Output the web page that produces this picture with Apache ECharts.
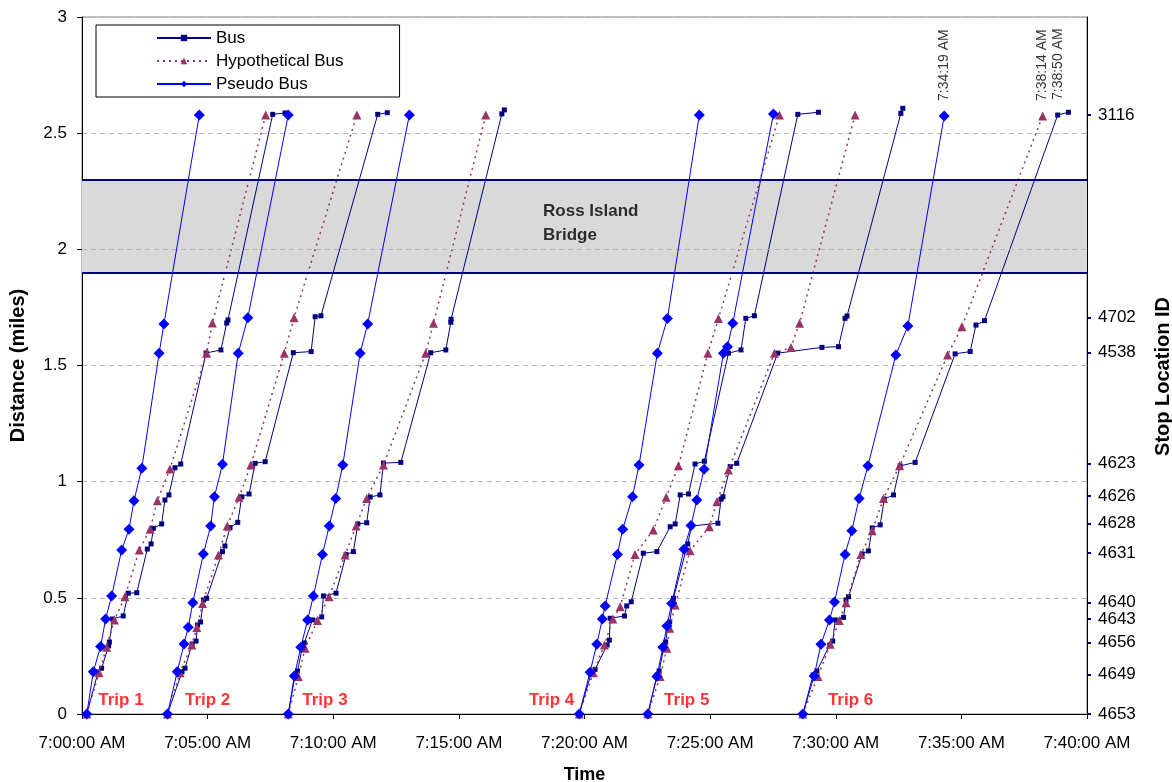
<!DOCTYPE html>
<html>
<head>
<meta charset="utf-8">
<title>Bus trips - distance vs time</title>
<script src="https://cdn.jsdelivr.net/npm/echarts@6/dist/echarts.min.js"></script>
<style>
  html, body { margin: 0; padding: 0; background: #fff; }
  #chart { width: 1172px; height: 782px; }
</style>
</head>
<body>
<div id="chart"></div>
<script>
// ── Data (x = minutes after 7:00:00 AM, y = distance in miles) ──────────

const xTicks = [0, 5, 10, 15, 20, 25, 30, 35, 40]

// right axis: stop IDs and where they sit on the distance scale
const stopIds  = ['4653', '4649', '4656', '4643', '4640', '4631', '4628', '4626', '4623', '4538', '4702', '3116']
const stopDist = [0, 0.171, 0.307, 0.408, 0.479, 0.692, 0.819, 0.938, 1.079, 1.555, 1.706, 2.578]

const bridgeRange = [1.9, 2.3]

const tripNames    = ['Trip 1', 'Trip 2', 'Trip 3', 'Trip 4', 'Trip 5', 'Trip 6']
const tripLabelPos = [[1.55, 0.058], [5.0, 0.058], [9.67, 0.058], [18.69, 0.058], [24.07, 0.058], [30.59, 0.058]]

// rotated time stamps above the last three arrivals
const timeNotes = [[34.3167, 2.574], [38.2333, 2.574], [38.8333, 2.578]]

const bus1 = [[0.19,0],[0.64,0.181],[0.78,0.197],[1.06,0.293],[1.09,0.31],[1.22,0.409],[1.64,0.422],[1.84,0.52],[2.18,0.522],[2.6,0.71],[2.75,0.732],[2.84,0.799],[3.17,0.818],[3.3,0.921],[3.46,0.943],[3.7,1.06],[3.93,1.076],[4.94,1.554],[5.53,1.567],[5.76,1.683],[5.81,1.696],[7.59,2.581],[8.08,2.587]]
const bus2 = [[3.4,0],[3.98,0.181],[4.1,0.197],[4.38,0.301],[4.54,0.314],[4.6,0.383],[4.72,0.396],[4.84,0.491],[4.96,0.498],[5.59,0.699],[5.69,0.723],[5.89,0.802],[6.2,0.825],[6.36,0.935],[6.65,0.947],[6.89,1.079],[7.29,1.086],[8.41,1.555],[9.12,1.56],[9.28,1.71],[9.51,1.714],[11.77,2.581],[12.15,2.588]]
const bus3 = [[8.21,0],[8.48,0.168],[8.58,0.185],[8.76,0.284],[8.85,0.306],[9.17,0.405],[9.54,0.418],[9.61,0.508],[10.11,0.52],[10.51,0.686],[10.8,0.699],[10.98,0.818],[11.33,0.823],[11.47,0.934],[11.86,0.943],[12.0,1.08],[12.69,1.083],[13.88,1.555],[14.48,1.567],[14.68,1.686],[14.69,1.699],[16.71,2.583],[16.81,2.6]]
const bus4 = [[19.79,0],[20.26,0.172],[20.42,0.192],[20.9,0.297],[20.99,0.318],[21.02,0.412],[21.59,0.422],[21.68,0.465],[21.86,0.483],[22.34,0.692],[22.88,0.699],[23.41,0.806],[23.61,0.818],[23.81,0.943],[24.14,0.947],[24.4,1.076],[24.77,1.088],[25.73,1.553],[26.23,1.567],[26.42,1.703],[26.76,1.714],[28.49,2.581],[29.31,2.59]]
const bus5 = [[22.52,0],[22.89,0.168],[22.97,0.185],[23.17,0.293],[23.23,0.31],[23.33,0.383],[23.39,0.396],[23.51,0.478],[23.54,0.498],[24.04,0.706],[24.11,0.732],[24.26,0.809],[25.31,0.821],[25.44,0.925],[25.51,0.935],[25.8,1.065],[26.06,1.079],[27.69,1.553],[29.45,1.578],[30.11,1.581],[30.37,1.703],[30.45,1.713],[32.59,2.585],[32.67,2.607]]
const bus6 = [[28.69,0],[29.1,0.168],[29.25,0.185],[29.76,0.297],[29.88,0.314],[29.98,0.405],[30.31,0.416],[30.41,0.491],[30.51,0.505],[31.05,0.689],[31.3,0.702],[31.45,0.801],[31.77,0.814],[31.93,0.925],[32.3,0.943],[32.56,1.068],[33.16,1.083],[34.75,1.55],[35.35,1.56],[35.58,1.674],[35.92,1.693],[38.8333,2.578],[39.26,2.59]]

const hyp1 = [[0.19,0],[0.68,0.178],[0.98,0.287],[1.29,0.405],[1.71,0.505],[2.28,0.706],[2.71,0.795],[3.0,0.918],[3.5,1.055],[4.96,1.553],[5.19,1.683],[7.31,2.578]]
const hyp2 = [[3.4,0],[3.9,0.178],[4.37,0.297],[4.57,0.372],[4.8,0.476],[5.43,0.684],[5.78,0.809],[6.25,0.933],[6.72,1.072],[8.05,1.553],[8.44,1.706],[10.94,2.578]]
const hyp3 = [[8.21,0],[8.61,0.161],[8.88,0.283],[9.37,0.402],[9.83,0.505],[10.47,0.684],[10.91,0.809],[11.33,0.928],[12.0,1.072],[13.68,1.553],[13.99,1.682],[16.07,2.578]]
const hyp4 = [[19.79,0],[20.35,0.178],[20.79,0.297],[21.13,0.409],[21.42,0.462],[22.01,0.687],[22.74,0.792],[23.25,0.933],[23.74,1.068],[24.91,1.553],[25.33,1.702],[27.76,2.578]]
const hyp5 = [[22.52,0],[23.01,0.161],[23.28,0.283],[23.39,0.369],[23.61,0.469],[24.2,0.703],[24.97,0.806],[25.27,0.914],[25.73,1.05],[27.56,1.553],[28.22,1.578],[28.56,1.682],[30.77,2.578]]
const hyp6 = [[28.69,0],[29.29,0.161],[29.78,0.3],[30.14,0.402],[30.41,0.479],[31.0,0.687],[31.45,0.789],[31.9,0.928],[32.54,1.068],[34.45,1.545],[35.02,1.667],[38.2333,2.574]]

const pseudo1 = [[0.19,0],[0.45,0.182],[0.74,0.29],[0.94,0.409],[1.18,0.508],[1.58,0.706],[1.87,0.795],[2.07,0.918],[2.38,1.058],[3.07,1.553],[3.26,1.679],[4.67,2.578]]
const pseudo2 = [[3.4,0],[3.79,0.182],[4.06,0.301],[4.23,0.373],[4.41,0.479],[4.83,0.689],[5.12,0.809],[5.27,0.935],[5.59,1.075],[6.22,1.553],[6.6,1.706],[8.21,2.578]]
const pseudo3 = [[8.21,0],[8.45,0.164],[8.71,0.287],[8.98,0.405],[9.21,0.508],[9.57,0.687],[9.84,0.809],[10.1,0.928],[10.38,1.072],[11.07,1.553],[11.37,1.679],[13.03,2.578]]
const pseudo4 = [[19.79,0],[20.22,0.18],[20.49,0.3],[20.71,0.409],[20.82,0.465],[21.31,0.687],[21.52,0.795],[21.91,0.935],[22.17,1.072],[22.9,1.553],[23.3,1.702],[24.57,2.578]]
const pseudo5 = [[22.52,0],[22.88,0.161],[23.12,0.287],[23.28,0.379],[23.47,0.476],[23.96,0.709],[24.24,0.811],[24.47,0.921],[24.76,1.053],[25.53,1.553],[25.69,1.581],[25.9,1.682],[27.52,2.583]]
const pseudo6 = [[28.69,0],[29.14,0.164],[29.41,0.3],[29.75,0.405],[29.95,0.482],[30.37,0.687],[30.64,0.789],[30.93,0.928],[31.28,1.068],[32.39,1.545],[32.87,1.67],[34.3167,2.574]]

const busTrips    = [bus1, bus2, bus3, bus4, bus5, bus6]
const hypTrips    = [hyp1, hyp2, hyp3, hyp4, hyp5, hyp6]
const pseudoTrips = [pseudo1, pseudo2, pseudo3, pseudo4, pseudo5, pseudo6]

// ── Helpers ───────────────────────────────────────────────

const FONT = 'Liberation Sans, Arial, sans-serif'
const pad2 = n => String(n).padStart(2, '0')

/** minutes after 7:00 → "7:05:00 AM" */
function fmtTime(min) {
  const s = Math.round(min * 60)
  return `7:${pad2(Math.floor(s / 60))}:${pad2(s % 60)} AM`
}

function stopLabel(v) {
  let best = 0
  stopDist.forEach((d, i) => { if (Math.abs(d - v) < Math.abs(stopDist[best] - v)) best = i })
  return stopIds[best]
}

function tripSeries(name, trips, style) {
  return trips.map(data => ({
    name,
    type: 'line',
    data,
    clip: false,
    symbol: style.symbol,
    symbolSize: style.size,
    itemStyle: { color: style.color },
    lineStyle: { color: style.color, width: style.width, type: style.dash || 'solid' },
    z: style.z,
  }))
}

// ── Chart ─────────────────────────────────────────────────

const chart = echarts.init(document.getElementById('chart'))

chart.setOption({
  animation: false,
  textStyle: { fontFamily: FONT },
  grid: {
    left: 82, right: 85, top: 17, bottom: 68,
    outerBoundsMode: 'none', containLabel: false,
    show: true, borderColor: '#808080', borderWidth: 1,
  },
  legend: {
    data: ['Bus', 'Hypothetical Bus', 'Pseudo Bus'],
    orient: 'vertical',
    left: 96, top: 25,
    itemWidth: 54, itemHeight: 8, itemGap: 5,
    padding: [4, 56, 4, 60],
    borderColor: '#000', borderWidth: 1,
    backgroundColor: '#fff',
    textStyle: { fontSize: 17, color: '#000', lineHeight: 18, fontFamily: FONT },
  },
  xAxis: {
    type: 'value', min: xTicks[0], max: xTicks[xTicks.length - 1], interval: 5,
    axisLine: { show: true, onZero: false, lineStyle: { color: '#000' } },
    axisTick: { show: true, length: 5, lineStyle: { color: '#000' } },
    axisLabel: { formatter: fmtTime, fontSize: 17, color: '#000', margin: 21, showMaxLabel: true, showMinLabel: true },
    splitLine: { show: false },
    name: 'Time', nameLocation: 'middle', nameGap: 52,
    nameTextStyle: { fontWeight: 'bold', fontSize: 18, color: '#000' },
  },
  yAxis: [
    {
      type: 'value', min: 0, max: 3, interval: 0.5, position: 'left',
      axisLine: { show: true, onZero: false, lineStyle: { color: '#000' } },
      axisTick: { show: true, length: 5, lineStyle: { color: '#000' } },
      axisLabel: { fontSize: 17, color: '#000', margin: 15 },
      splitLine: { show: true, lineStyle: { color: '#b4b4b4', type: [5, 4] } },
      name: 'Distance (miles)', nameLocation: 'middle', nameGap: 54, nameRotate: 90,
      nameTextStyle: { fontWeight: 'bold', fontSize: 20, color: '#000' },
    },
    {
      type: 'value', min: 0, max: 3, position: 'right',
      axisLine: { show: true, onZero: false, lineStyle: { color: '#000' } },
      axisTick: { show: true, length: 4, customValues: stopDist, lineStyle: { color: '#000080', width: 2 } },
      axisLabel: { customValues: stopDist, formatter: stopLabel, fontSize: 17, color: '#000', margin: 11 },
      splitLine: { show: false },
      name: 'Stop Location ID', nameLocation: 'middle', nameGap: 66, nameRotate: 90,
      nameTextStyle: { fontWeight: 'bold', fontSize: 20, color: '#000', padding: [0, 22, 0, 0] },
    },
  ],
  series: [
    // Ross Island Bridge band
    {
      name: 'bridge', type: 'line', data: [[0, bridgeRange[0]]], showSymbol: false, silent: true,
      lineStyle: { opacity: 0 }, z: 1,
      markArea: {
        silent: true,
        itemStyle: { color: '#d9d9d9' },
        data: [[{ yAxis: bridgeRange[0] }, { yAxis: bridgeRange[1] }]],
      },
      markLine: {
        silent: true, symbol: 'none', label: { show: false },
        data: [
          { yAxis: 2, lineStyle: { color: '#b4b4b4', width: 1, type: [5, 4] } },
          { yAxis: bridgeRange[0], lineStyle: { color: '#000080', width: 2, type: 'solid' } },
          { yAxis: bridgeRange[1], lineStyle: { color: '#000080', width: 2, type: 'solid' } },
        ],
      },
    },
    {
      name: 'bridgeLabel', type: 'scatter', data: [[18.35, 2.113]], symbolSize: 0, silent: true, z: 5,
      label: {
        show: true, position: 'right', distance: 0, align: 'left',
        formatter: 'Ross Island\nBridge', fontSize: 17, fontWeight: 'bold', color: '#000', lineHeight: 24,
      },
    },
    ...tripSeries('Bus', busTrips, { symbol: 'rect', size: 5, color: '#000080', width: 1, z: 3 }),
    ...tripSeries('Hypothetical Bus', hypTrips, { symbol: 'triangle', size: 9, color: '#993366', width: 1.5, dash: [2, 4], z: 4 }),
    ...tripSeries('Pseudo Bus', pseudoTrips, { symbol: 'diamond', size: 11, color: '#0000ff', width: 1, z: 5 }),
    {
      name: 'trips', type: 'scatter', data: tripLabelPos, symbolSize: 0, silent: true, z: 6,
      label: {
        show: true, position: 'inside',
        formatter: p => tripNames[p.dataIndex],
        color: '#ff0000', fontWeight: 'bold', fontSize: 17,
      },
    },
    {
      name: 'notes', type: 'scatter', data: timeNotes, symbolSize: 0, silent: true, z: 6,
      label: {
        show: true, position: 'top', distance: 12, rotate: 90, align: 'left', verticalAlign: 'middle',
        offset: [3, 0],
        formatter: p => fmtTime(p.value[0]), fontSize: 14, color: '#000',
      },
    },
  ],
})
</script>
</body>
</html>
